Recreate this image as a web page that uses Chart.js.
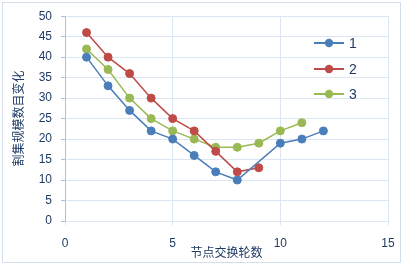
<!DOCTYPE html>
<html>
<head>
<meta charset="utf-8">
<script src="https://cdn.jsdelivr.net/npm/chart.js@4"></script>
<style>
  html, body { margin: 0; padding: 0; background: #fff; }
  #wrap { width: 406px; height: 265px; position: relative; }
</style>
</head>
<body>
<div id="wrap"><canvas id="grafico"></canvas></div>
<script>
// --- datos ---
const rondas1 = [1, 2, 3, 4, 5, 6, 7, 8, 10, 11, 12];
const serie1 = [40, 33, 27, 22, 20, 16, 12, 10, 19, 20, 22];
const rondas2 = [1, 2, 3, 4, 5, 6, 7, 8, 9];
const serie2 = [46, 40, 36, 30, 25, 22, 17, 12, 13];
const rondas3 = [1, 2, 3, 4, 5, 6, 7, 8, 9, 10, 11];
const serie3 = [42, 37, 30, 25, 22, 20, 18, 18, 19, 22, 24];
const nombres = ["1", "2", "3"];
const ticksX = [0, 5, 10, 15];

const azul = "#4A7EBB", rojo = "#BE4B48", verde = "#98B954";
const texto = "#1F3B63";
const rejilla = "#DCE6F2";

const puntos = (xs, ys) => xs.map((x, i) => ({ x, y: ys[i] }));

function serie(label, xs, ys, color) {
  return {
    label,
    data: puntos(xs, ys),
    borderColor: color,
    backgroundColor: color,
    borderWidth: 1.5,
    pointRadius: 4,
    pointHoverRadius: 4,
    pointBorderWidth: 1,
    tension: 0
  };
}

// borde exterior y fondo
const fondo = {
  id: "fondo",
  beforeDraw(chart) {
    const c = chart.ctx;
    c.save();
    c.fillStyle = "#fff";
    c.fillRect(0, 0, chart.width, chart.height);
    c.strokeStyle = "#D3DEEC";
    c.lineWidth = 1;
    c.strokeRect(2.5, 2.5, 398, 260);
    c.restore();
  }
};

// leyenda dentro del area
const leyenda = {
  id: "leyenda",
  afterDraw(chart) {
    const c = chart.ctx;
    const filas = [43, 69, 94];
    c.save();
    chart.data.datasets.forEach((ds, i) => {
      const y = filas[i];
      c.strokeStyle = ds.borderColor;
      c.lineWidth = 2;
      c.beginPath();
      c.moveTo(314, y);
      c.lineTo(344, y);
      c.stroke();
      c.fillStyle = ds.backgroundColor;
      c.beginPath();
      c.arc(329, y, 4.2, 0, Math.PI * 2);
      c.fill();
      c.fillStyle = texto;
      c.font = "14px 'Liberation Sans', sans-serif";
      c.textBaseline = "middle";
      c.fillText(ds.label, 349, y + 1);
    });
    c.restore();
  }
};

new Chart(document.getElementById("grafico"), {
  type: "line",
  data: {
    datasets: [
      serie(nombres[0], rondas1, serie1, azul),
      serie(nombres[1], rondas2, serie2, rojo),
      serie(nombres[2], rondas3, serie3, verde)
    ]
  },
  options: {
    responsive: true,
    maintainAspectRatio: false,
    animation: false,
    layout: { padding: { left: 0, top: 15, right: 18, bottom: 0 } },
    plugins: {
      legend: { display: false },
      tooltip: { enabled: false }
    },
    scales: {
      x: {
        type: "linear",
        min: 0,
        max: 15,
        afterBuildTicks: s => { s.ticks = ticksX.map(v => ({ value: v })); },
        afterFit: s => { s.height = 44; },
        grid: { color: rejilla, tickColor: rejilla, tickLength: 4 },
        border: { color: rejilla },
        ticks: {
          color: texto,
          padding: 11,
          maxRotation: 0,
          font: { family: "'Liberation Sans', sans-serif", size: 12 }
        },
        title: {
          display: true,
          text: "节点交换轮数",
          color: texto,
          padding: { top: 0, bottom: 5 },
          font: { family: "'Noto Sans CJK SC', sans-serif", size: 12 }
        }
      },
      y: {
        min: 0,
        max: 50,
        afterFit: s => { s.width = 65; },
        grid: { color: rejilla, tickColor: "#A9C1E0", tickLength: 4 },
        border: { color: "#A9C1E0" },
        ticks: {
          stepSize: 5,
          color: texto,
          padding: 9,
          font: { family: "'Liberation Sans', sans-serif", size: 12 }
        },
        title: {
          display: true,
          text: "割集规模数目变化",
          color: texto,
          padding: { top: 11, bottom: 0 },
          font: { family: "'Noto Sans CJK SC', sans-serif", size: 12 }
        }
      }
    }
  },
  plugins: [fondo, leyenda]
});
</script>
</body>
</html>
